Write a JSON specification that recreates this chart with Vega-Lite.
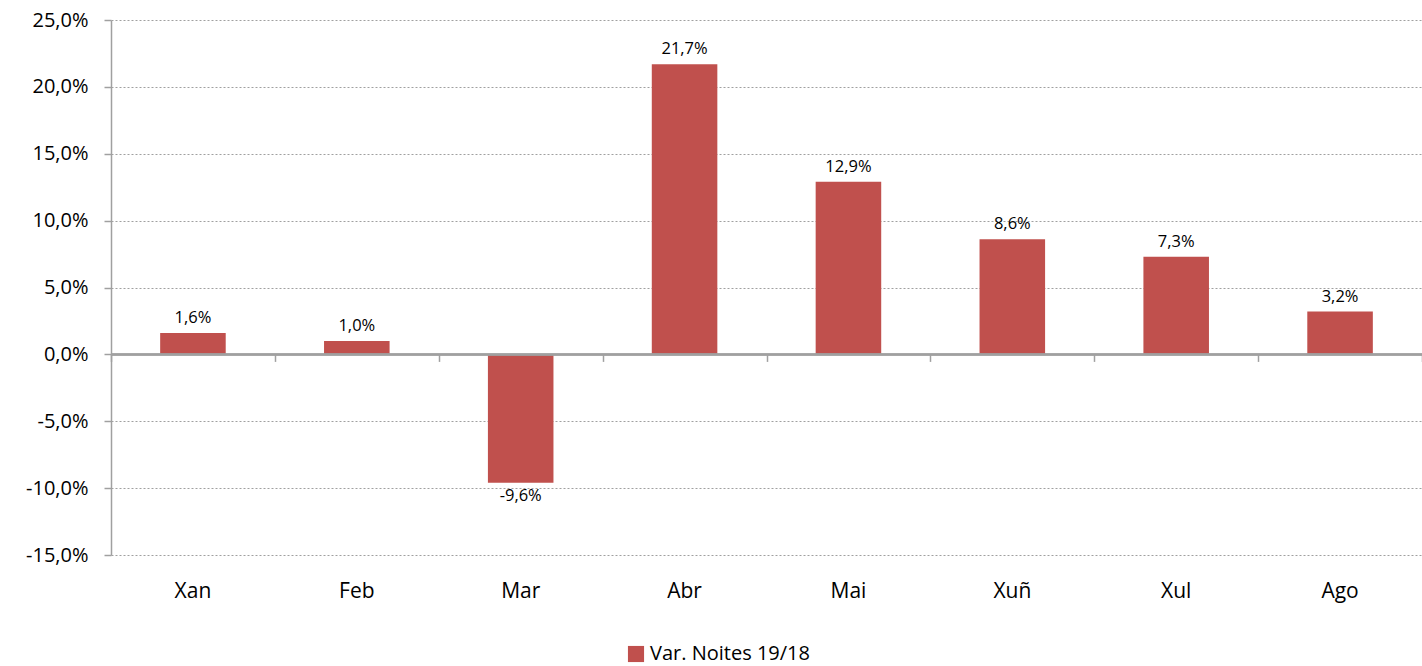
{
  "$schema": "https://vega.github.io/schema/vega-lite/v6.json",
  "width": 1311,
  "height": 535,
  "autosize": "none",
  "padding": {"left": 111, "top": 20, "right": 0, "bottom": 111},
  "config": {
    "locale": {"number": {"decimal": ",", "thousands": ".", "grouping": [3], "currency": ["", " €"], "minus": "-"}},
    "view": {"stroke": null},
    "font": "Open Sans"
  },
  "data": {
    "values": [
      {"mes": "Xan", "var": 0.016, "serie": "Var. Noites 19/18"},
      {"mes": "Feb", "var": 0.010, "serie": "Var. Noites 19/18"},
      {"mes": "Mar", "var": -0.096, "serie": "Var. Noites 19/18"},
      {"mes": "Abr", "var": 0.217, "serie": "Var. Noites 19/18"},
      {"mes": "Mai", "var": 0.129, "serie": "Var. Noites 19/18"},
      {"mes": "Xuñ", "var": 0.086, "serie": "Var. Noites 19/18"},
      {"mes": "Xul", "var": 0.073, "serie": "Var. Noites 19/18"},
      {"mes": "Ago", "var": 0.032, "serie": "Var. Noites 19/18"}
    ]
  },
  "resolve": {"axis": {"x": "independent"}, "scale": {"x": "independent"}},
  "layer": [
    {
      "mark": {"type": "bar"},
      "encoding": {
        "x": {
          "field": "mes", "type": "nominal", "sort": null,
          "scale": {"paddingInner": 0.6, "paddingOuter": 0.3},
          "axis": {
            "title": null, "domain": false, "ticks": false, "grid": false,
            "labelAngle": 0, "labelFontSize": 21, "labelColor": "#000000",
            "labelPadding": 25, "labelFont": "Open Sans", "orient": "bottom"
          }
        },
        "y": {
          "field": "var", "type": "quantitative",
          "scale": {"domain": [-0.15, 0.25], "nice": false},
          "axis": {
            "title": null, "format": ".1%", "values": [-0.15, -0.1, -0.05, 0, 0.05, 0.1, 0.15, 0.2, 0.25],
            "labelFontSize": 20, "labelColor": "#000000", "labelPadding": 16,
            "domainColor": "#A0A0A0", "domainWidth": 1.5,
            "tickColor": "#A0A0A0", "tickSize": 7, "tickWidth": 1.5,
            "gridColor": "#A0A0A0", "gridDash": [2, 2], "gridWidth": 1
          }
        },
        "color": {
          "field": "serie", "type": "nominal",
          "scale": {"range": ["#C0504D"]},
          "legend": {
            "orient": "none", "legendX": 515, "legendY": 624, "direction": "horizontal",
            "title": null, "symbolType": "square",
            "symbolSize": 260, "symbolOpacity": 1, "labelFontSize": 20, "labelColor": "#000000",
            "symbolStrokeWidth": 0, "labelOffset": 4
          }
        }
      }
    },
    {
      "mark": {"type": "rule", "color": "#A0A0A0", "strokeWidth": 1.5},
      "encoding": {"y": {"datum": 0}}
    },
    {
      "transform": [{"filter": "datum.var >= 0"}],
      "mark": {"type": "text", "baseline": "alphabetic", "dy": -10, "fontSize": 16.5, "color": "#000000"},
      "encoding": {
        "x": {
          "field": "mes", "type": "nominal", "sort": null,
          "scale": {"domain": ["Xan", "Feb", "Mar", "Abr", "Mai", "Xuñ", "Xul", "Ago"], "paddingInner": 0, "paddingOuter": 0},
          "axis": {
            "title": null, "labels": false, "domain": false, "grid": false, "orient": "bottom",
            "ticks": true, "tickBand": "extent", "tickColor": "#A0A0A0",
            "tickSize": 7, "tickWidth": 1.5, "offset": -200.6
          }
        },
        "y": {"field": "var", "type": "quantitative"},
        "text": {"field": "var", "type": "quantitative", "format": ".1%"}
      }
    },
    {
      "transform": [{"filter": "datum.var < 0"}],
      "mark": {"type": "text", "baseline": "top", "dy": 5, "fontSize": 16.5, "color": "#000000"},
      "encoding": {
        "x": {"field": "mes", "type": "nominal", "sort": null,
          "scale": {"domain": ["Xan", "Feb", "Mar", "Abr", "Mai", "Xuñ", "Xul", "Ago"], "paddingInner": 0, "paddingOuter": 0},
          "axis": null},
        "y": {"field": "var", "type": "quantitative"},
        "text": {"field": "var", "type": "quantitative", "format": ".1%"}
      }
    }
  ]
}
